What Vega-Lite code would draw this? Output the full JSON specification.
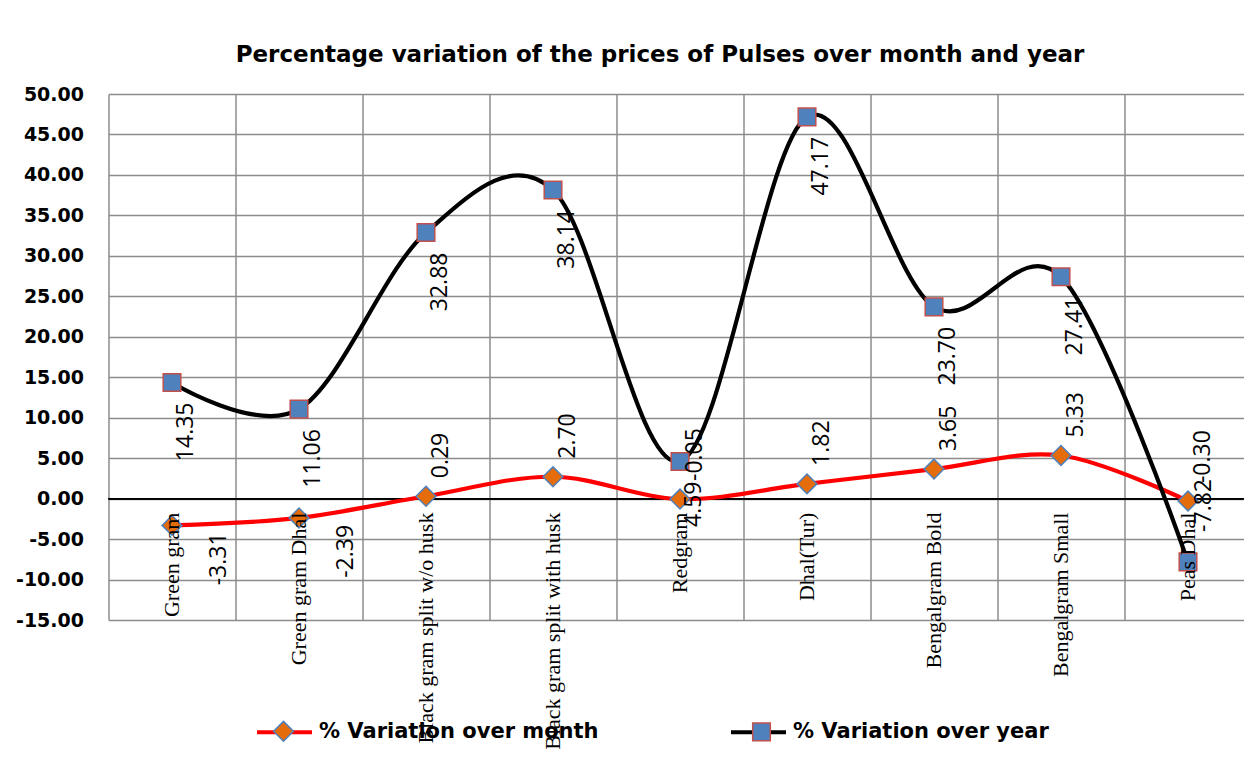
{
  "$schema": "https://vega.github.io/schema/vega-lite/v6.json",
  "width": 1135,
  "height": 526,
  "autosize": {"type": "none"},
  "padding": {"left": 108.5, "top": 94, "right": 0, "bottom": 138},
  "background": "white",
  "title": {
    "text": "Percentage variation of the prices of Pulses over month and year",
    "font": "DejaVu Sans", "fontSize": 23, "fontWeight": "bold", "color": "black",
    "anchor": "middle", "dx": -16, "offset": 0, "baseline": "alphabetic"
  },
  "config": {
    "locale": {"number": {"decimal": ".", "thousands": ",", "grouping": [3], "currency": ["$", ""], "minus": "-"}},
    "view": {"stroke": null},
    "axisX": {"grid": true, "tickBand": "extent", "labels": false, "ticks": false, "domain": false, "gridColor": "#8c8c8c", "gridWidth": 1.5},
    "axisY": {"grid": true, "ticks": false, "domain": false, "gridColor": "#8c8c8c", "gridWidth": 1.5, "labelFont": "DejaVu Sans", "labelFontWeight": "bold", "labelFontSize": 19, "labelColor": "black", "labelPadding": 25}
  },
  "data": {
    "values": [
      {"cat": "Green gram", "month": -3.31, "year": 14.35},
      {"cat": "Green gram Dhal", "month": -2.39, "year": 11.06},
      {"cat": "Black gram  split w/o husk", "month": 0.29, "year": 32.88},
      {"cat": "Black gram  split with husk", "month": 2.70, "year": 38.14},
      {"cat": "Redgram", "month": -0.05, "year": 4.59},
      {"cat": "Dhal(Tur)", "month": 1.82, "year": 47.17},
      {"cat": "Bengalgram Bold", "month": 3.65, "year": 23.70},
      {"cat": "Bengalgram Small", "month": 5.33, "year": 27.41},
      {"cat": "Peas Dhal", "month": -0.30, "year": -7.82}
    ]
  },
  "layer": [
    {
      "mark": {"type": "rule", "color": "black", "strokeWidth": 1.3},
      "encoding": {
        "y": {"datum": 0, "type": "quantitative", "scale": {"domain": [-15, 50], "nice": false, "zero": false}, "axis": {"values": [-15, -10, -5, 0, 5, 10, 15, 20, 25, 30, 35, 40, 45, 50], "format": ".2f"}, "title": null}
      }
    },
    {
      "transform": [{"fold": ["month", "year"], "as": ["series", "value"]}],
      "mark": {"type": "line", "interpolate": "cardinal", "strokeWidth": 4.2},
      "encoding": {
        "x": {"field": "cat", "type": "nominal", "bandPosition": 0.5, "title": null,
              "sort": ["Green gram", "Green gram Dhal", "Black gram  split w/o husk", "Black gram  split with husk", "Redgram", "Dhal(Tur)", "Bengalgram Bold", "Bengalgram Small", "Peas Dhal"],
              "scale": {"type": "band", "range": [0, 1143], "paddingInner": 0, "paddingOuter": 0}},
        "y": {"field": "value", "type": "quantitative", "title": null},
        "color": {"field": "series", "type": "nominal",
          "scale": {"range": ["#FF0000", "#000000"]},
          "legend": {"orient": "none", "legendX": 146.5, "legendY": 608.5, "direction": "horizontal", "title": null, "padding": 0,
            "symbolType": "stroke", "symbolSize": 3025, "symbolStrokeWidth": 4, "labelOffset": 5, "columnPadding": 124, "labelLimit": 500,
            "labelFont": "DejaVu Sans", "labelFontSize": 21, "labelFontWeight": "bold", "labelColor": "black",
            "labelExpr": "datum.label == 'month' ? '% Variation over month' : '% Variation over year'"}
        }
      }
    },
    {
      "transform": [{"fold": ["month", "year"], "as": ["series_p", "value_p"]}],
      "mark": {"type": "point", "filled": true, "size": 3025, "strokeWidth": 1.5, "opacity": 1},
      "encoding": {
        "x": {"field": "cat", "type": "nominal", "bandPosition": 0.5, "title": null,
              "sort": ["Green gram", "Green gram Dhal", "Black gram  split w/o husk", "Black gram  split with husk", "Redgram", "Dhal(Tur)", "Bengalgram Bold", "Bengalgram Small", "Peas Dhal"]},
        "y": {"field": "value_p", "type": "quantitative", "title": null},
        "fill": {"field": "series_p", "type": "nominal",
          "scale": {"domain": ["month", "year"], "range": ["#E46C0A", "#4F81BD"]},
          "legend": {"orient": "none", "legendX": 146.5, "legendY": 608.5, "direction": "horizontal", "title": null, "padding": 0,
            "symbolSize": 3025, "symbolStrokeWidth": 1.5, "labelOffset": 5, "columnPadding": 416, "labelExpr": "''"}
        },
        "stroke": {"field": "series_p", "type": "nominal",
          "scale": {"domain": ["month", "year"], "range": ["#4F81BD", "#C0504D"]},
          "legend": {"orient": "none", "legendX": 146.5, "legendY": 608.5, "direction": "horizontal", "title": null, "padding": 0,
            "symbolSize": 3025, "symbolStrokeWidth": 1.5, "labelOffset": 5, "columnPadding": 416, "labelExpr": "''"}
        },
        "shape": {"field": "series_p", "type": "nominal",
          "scale": {"domain": ["month", "year"], "range": ["M0,-0.36L0.36,0L0,0.36L-0.36,0Z", "M-0.32,-0.32L0.32,-0.32L0.32,0.32L-0.32,0.32Z"]},
          "legend": {"orient": "none", "legendX": 146.5, "legendY": 608.5, "direction": "horizontal", "title": null, "padding": 0,
            "symbolSize": 3025, "symbolStrokeWidth": 1.5, "labelOffset": 5, "columnPadding": 416, "labelExpr": "''"}
        }
      }
    },
    {
      "transform": [{"filter": "datum.year >= 0"}],
      "mark": {"type": "text", "angle": 270, "align": "right", "baseline": "middle", "dx": -20, "dy": 14, "font": "Open Sans", "fontSize": 23, "color": "black"},
      "encoding": {
        "x": {"field": "cat", "type": "nominal", "bandPosition": 0.5, "title": null,
              "sort": ["Green gram", "Green gram Dhal", "Black gram  split w/o husk", "Black gram  split with husk", "Redgram", "Dhal(Tur)", "Bengalgram Bold", "Bengalgram Small", "Peas Dhal"]},
        "y": {"field": "year", "type": "quantitative", "title": null},
        "text": {"field": "year", "type": "quantitative", "format": ".2f"}
      }
    },
    {
      "transform": [{"filter": "datum.year < 0"}],
      "mark": {"type": "text", "angle": 270, "align": "left", "baseline": "middle", "dx": 30, "dy": 16, "font": "Open Sans", "fontSize": 23, "color": "black"},
      "encoding": {
        "x": {"field": "cat", "type": "nominal", "bandPosition": 0.5, "title": null,
              "sort": ["Green gram", "Green gram Dhal", "Black gram  split w/o husk", "Black gram  split with husk", "Redgram", "Dhal(Tur)", "Bengalgram Bold", "Bengalgram Small", "Peas Dhal"]},
        "y": {"field": "year", "type": "quantitative", "title": null},
        "text": {"field": "year", "type": "quantitative", "format": ".2f"}
      }
    },
    {
      "transform": [{"filter": "datum.month > -1"}],
      "mark": {"type": "text", "angle": 270, "align": "left", "baseline": "middle", "dx": 18, "dy": 15, "font": "Open Sans", "fontSize": 23, "color": "black"},
      "encoding": {
        "x": {"field": "cat", "type": "nominal", "bandPosition": 0.5, "title": null,
              "sort": ["Green gram", "Green gram Dhal", "Black gram  split w/o husk", "Black gram  split with husk", "Redgram", "Dhal(Tur)", "Bengalgram Bold", "Bengalgram Small", "Peas Dhal"]},
        "y": {"field": "month", "type": "quantitative", "title": null},
        "text": {"field": "month", "type": "quantitative", "format": ".2f"}
      }
    },
    {
      "transform": [{"filter": "datum.month <= -1"}],
      "mark": {"type": "text", "angle": 270, "align": "right", "baseline": "middle", "dx": -7, "dy": 47, "font": "Open Sans", "fontSize": 23, "color": "black"},
      "encoding": {
        "x": {"field": "cat", "type": "nominal", "bandPosition": 0.5, "title": null,
              "sort": ["Green gram", "Green gram Dhal", "Black gram  split w/o husk", "Black gram  split with husk", "Redgram", "Dhal(Tur)", "Bengalgram Bold", "Bengalgram Small", "Peas Dhal"]},
        "y": {"field": "month", "type": "quantitative", "title": null},
        "text": {"field": "month", "type": "quantitative", "format": ".2f"}
      }
    },
    {
      "mark": {"type": "text", "angle": 270, "align": "right", "baseline": "middle", "dx": -14, "font": "Liberation Serif", "fontSize": 22, "color": "black"},
      "encoding": {
        "x": {"field": "cat", "type": "nominal", "bandPosition": 0.5, "title": null,
              "sort": ["Green gram", "Green gram Dhal", "Black gram  split w/o husk", "Black gram  split with husk", "Redgram", "Dhal(Tur)", "Bengalgram Bold", "Bengalgram Small", "Peas Dhal"]},
        "y": {"datum": 0, "type": "quantitative"},
        "text": {"field": "cat", "type": "nominal"}
      }
    }
  ]
}
